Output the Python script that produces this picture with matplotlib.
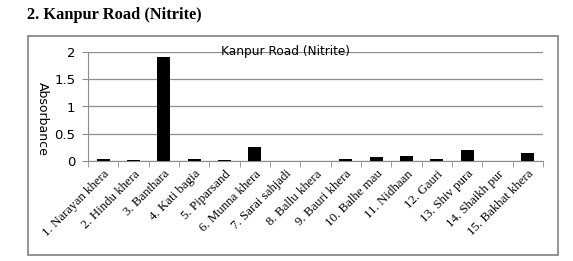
import numpy as np
import matplotlib.pyplot as plt
from matplotlib.patches import Rectangle

sites = ['1. Narayan khera', '2. Hindu khera', '3. Banthara', '4. Kati bagia',
         '5. Piparsand', '6. Munna khera', '7. Sarai sahjadi', '8. Ballu khera',
         '9. Bauri khera', '10. Balhe mau', '11. Nidhaan', '12. Gauri',
         '13. Shiv pura', '14. Shaikh pur', '15. Bakhat khera']
absorbance = [0.04, 0.02, 1.9, 0.04, 0.02, 0.25, 0.0, 0.0,
              0.03, 0.08, 0.10, 0.04, 0.20, 0.0, 0.15]

fig = plt.figure(figsize=(5.73, 2.61), dpi=100)

# heading above the chart box
fig.text(27 / 573, 1 - 15 / 261, '2. Kanpur Road (Nitrite)', family='Liberation Serif',
         weight='bold', fontsize=11.8, va='center', ha='left')

# chart border
fig.patches.append(Rectangle((28 / 573, 1 - 255 / 261), 530 / 573, 219 / 261,
                             transform=fig.transFigure, fill=False,
                             edgecolor='#808080', linewidth=1.2))

ax = fig.add_axes([88 / 573, 1 - 161 / 261, 455 / 573, 109 / 261])
x = np.arange(len(sites))
ax.bar(x, absorbance, width=0.42, color='black', zorder=3)

ax.set_xlim(-0.5, len(sites) - 0.5)
ax.set_ylim(0, 2)
ax.set_yticks([0, 0.5, 1, 1.5, 2])
ax.set_yticklabels(['0', '0.5', '1', '1.5', '2'])
ax.yaxis.grid(True, color='#8c8c8c', linewidth=0.9, zorder=0)
ax.set_axisbelow(True)

for s in ['top', 'right']:
    ax.spines[s].set_visible(False)
ax.spines['left'].set_color('#8c8c8c')
ax.spines['bottom'].set_color('#8c8c8c')

ax.set_xticks(x)
ax.set_xticklabels(sites, rotation=45, ha='right', rotation_mode='anchor',
                   family='Liberation Serif', fontsize=9.3)
ax.tick_params(axis='x', length=0, pad=5)
ax.set_xticks(np.arange(-0.5, len(sites), 1), minor=True)
ax.tick_params(axis='x', which='minor', length=4, color='#8c8c8c', direction='out')
ax.tick_params(axis='y', length=4, color='#8c8c8c', labelsize=9.5, pad=5)

# axis title reads top to bottom in the original
ax.set_ylabel('Absorbance', fontsize=9, rotation=270, va='center')
ax.yaxis.set_label_coords(-0.1, 0.39)
ax.text(0.435, 1.0, 'Kanpur Road (Nitrite)', transform=ax.transAxes,
        fontsize=8.7, ha='center', va='center', zorder=5)

fig.savefig('out.png', dpi=100)
